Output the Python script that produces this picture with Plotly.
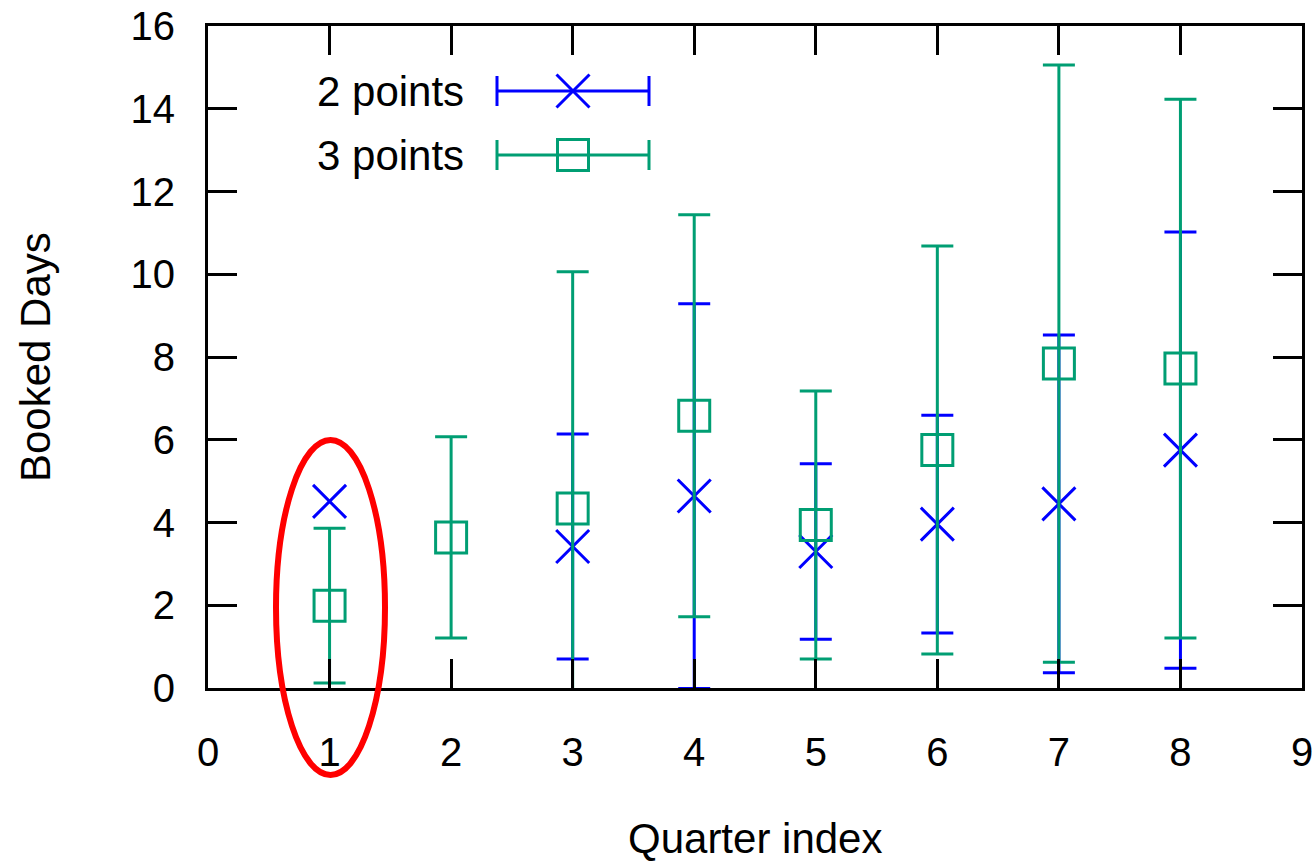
import plotly.graph_objects as go

# ---- data ----
quarters_2 = [1, 3, 4, 5, 6, 7, 8]
days_2 = [4.51, 3.42, 4.64, 3.30, 3.96, 4.45, 5.75]
err_2 = [None, 2.72, 4.65, 2.12, 2.63, 4.08, 5.27]

quarters_3 = [1, 2, 3, 4, 5, 6, 7, 8]
days_3 = [1.99, 3.64, 4.34, 6.58, 3.94, 5.75, 7.84, 7.72]
err_3 = [1.87, 2.43, 5.72, 4.86, 3.24, 4.93, 7.22, 6.51]

series_names = ["2 points", "3 points"]
x_ticks = list(range(0, 10))
y_ticks = list(range(0, 17, 2))

BLUE = "#0000FF"
GREEN = "#009E73"
FONT = "Liberation Sans"
FS_TICK = 40
FS = 42

W, H = 1315, 866
L, R, T, B = 208, 13, 26, 178
PW, PH = W - L - R, H - T - B

fig = go.Figure()

blue_marker = dict(symbol="x-thin", size=33, color=BLUE, line=dict(width=3, color=BLUE))
green_marker = dict(symbol="square-open", size=31, color=GREEN, line=dict(width=3, color=GREEN))

# blue points with error bars
bx = [q for q, e in zip(quarters_2, err_2) if e is not None]
by = [d for d, e in zip(days_2, err_2) if e is not None]
be = [e for e in err_2 if e is not None]
fig.add_trace(go.Scatter(
    x=bx, y=by, mode="markers", name=series_names[0], marker=blue_marker,
    error_y=dict(type="data", array=be, symmetric=True, color=BLUE, thickness=3, width=16),
    showlegend=False,
))
# blue points without error bars
nx = [q for q, e in zip(quarters_2, err_2) if e is None]
ny = [d for d, e in zip(days_2, err_2) if e is None]
fig.add_trace(go.Scatter(x=nx, y=ny, mode="markers", name=series_names[0],
                         marker=blue_marker, showlegend=False))

fig.add_trace(go.Scatter(
    x=quarters_3, y=days_3, mode="markers", name=series_names[1], marker=green_marker,
    error_y=dict(type="data", array=err_3, symmetric=True, color=GREEN, thickness=3, width=16),
    showlegend=False,
))

# ---- key (pixel-space overlay axes) ----
key_y = [91, 155]
key_x = 573
key_half = 76
for name, ky, mk, col in [(series_names[0], key_y[0], blue_marker, BLUE),
                          (series_names[1], key_y[1], green_marker, GREEN)]:
    fig.add_trace(go.Scatter(
        x=[key_x], y=[ky], xaxis="x2", yaxis="y2", mode="markers", showlegend=False,
        marker=mk,
        error_x=dict(type="data", array=[key_half], symmetric=True, color=col, thickness=3, width=15),
        hoverinfo="skip", cliponaxis=False,
    ))
    fig.add_annotation(x=466, y=ky, xref="x2", yref="y2", text=name, showarrow=False,
                       xanchor="right", yanchor="middle",
                       font=dict(family=FONT, size=FS, color="black"))

# ---- red ellipse highlight (paper coords, unclipped) ----
def px2paper_x(px):
    return (px - L) / PW

def px2paper_y(py):
    return (H - B - py) / PH

fig.add_shape(type="circle", xref="paper", yref="paper",
              x0=px2paper_x(276), x1=px2paper_x(385),
              y0=px2paper_y(775), y1=px2paper_y(440),
              line=dict(color="#FF0000", width=6), layer="above")

axis_common = dict(
    showgrid=False, zeroline=False, showline=True, linecolor="black", linewidth=3,
    mirror="allticks", ticks="inside", ticklen=29, tickwidth=3, tickcolor="black",
    tickfont=dict(family=FONT, size=FS_TICK, color="black"), automargin=False,
)

fig.update_layout(
    width=W, height=H,
    margin=dict(l=L, r=R, t=T, b=B, autoexpand=False),
    plot_bgcolor="white", paper_bgcolor="white",
    xaxis=dict(range=[0, 9], tickvals=x_ticks, ticklabelstandoff=27, **axis_common),
    yaxis=dict(range=[0, 16], tickvals=y_ticks, ticklabelstandoff=22, **axis_common),
    xaxis2=dict(range=[L, W - R], overlaying="x", visible=False, fixedrange=True, automargin=False),
    yaxis2=dict(range=[H - B, T], overlaying="y", visible=False, fixedrange=True, automargin=False),
    showlegend=False,
    font=dict(family=FONT, size=FS, color="black"),
)

fig.add_annotation(x=0.5, y=0, xref="paper", yref="paper", text="Quarter index",
                   showarrow=False, xanchor="center", yanchor="middle", yshift=-150,
                   font=dict(family=FONT, size=FS, color="black"))
fig.add_annotation(x=0, y=0.5, xref="paper", yref="paper", text="Booked Days",
                   showarrow=False, xanchor="center", yanchor="middle", xshift=-173,
                   textangle=-90, font=dict(family=FONT, size=FS, color="black"))

fig.write_html(
    "out.html",
    config={"displayModeBar": False},
    post_script="document.body.style.margin='0';document.body.style.overflow='hidden';",
)
